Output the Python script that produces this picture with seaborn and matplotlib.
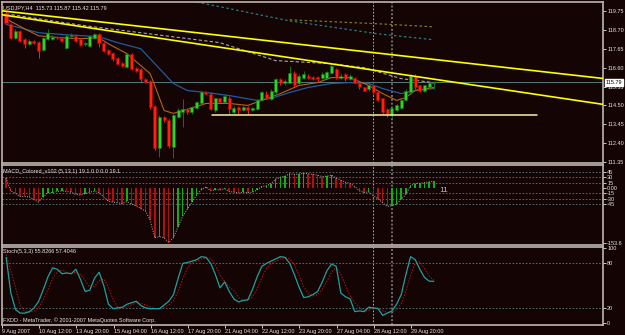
import matplotlib
matplotlib.use("Agg")
import matplotlib.pyplot as plt
import matplotlib.transforms as mtransforms
import numpy as np
import pandas as pd
import seaborn as sns

# USDJPY H4 bars
bar_open = [119.65, 119.04, 118.26, 118.65, 118.21, 117.93, 118.10, 118.04, 117.60, 118.21,
            118.21, 118.28, 118.26, 117.71, 118.37, 118.37, 118.21, 117.93, 117.82, 118.26,
            118.48, 117.99, 117.60, 117.43, 117.16, 116.88, 116.66, 117.38, 116.60, 116.55,
            115.99, 115.88, 114.45, 112.12, 113.84, 113.67, 112.18, 113.84, 114.11, 114.28,
            114.11, 114.33, 114.61, 115.22, 115.16, 114.22, 114.89, 114.67, 114.94, 114.11,
            114.39, 114.22, 114.39, 114.22, 114.28, 114.78, 115.16, 114.83, 115.22, 115.99,
            115.72, 115.77, 116.33, 115.72, 116.05, 116.16, 116.10, 116.10, 116.05, 116.05,
            116.33, 116.55, 116.05, 116.27, 115.99, 116.05, 115.77, 115.50, 115.39, 115.61,
            115.22, 114.89, 114.28, 113.95, 114.22, 114.33, 114.78, 115.22, 116.16, 115.61,
            115.33, 115.50, 115.73]
bar_high = [119.75, 119.10, 118.75, 118.70, 118.26, 118.21, 118.15, 118.10, 118.32, 118.75,
            118.40, 118.37, 118.32, 118.48, 118.54, 118.43, 118.26, 118.04, 118.43, 118.54,
            118.54, 118.04, 117.65, 117.49, 117.21, 116.93, 117.43, 117.43, 116.66, 116.60,
            116.05, 115.94, 114.50, 113.95, 113.90, 113.73, 114.00, 114.33, 114.83, 114.33,
            114.45, 114.72, 115.28, 115.33, 115.22, 114.94, 114.94, 115.11, 115.00, 114.45,
            114.45, 114.50, 114.45, 114.39, 114.83, 115.33, 115.28, 115.39, 116.05, 116.05,
            115.99, 116.70, 116.44, 116.27, 116.44, 116.27, 116.16, 116.16, 116.38, 116.44,
            116.77, 116.60, 116.22, 116.33, 116.22, 116.10, 115.83, 115.55, 115.72, 115.66,
            115.28, 114.94, 114.33, 114.39, 114.56, 114.83, 115.39, 116.27, 116.22, 115.66,
            115.66, 115.83, 115.87]
bar_low = [119.00, 118.20, 118.20, 118.05, 117.71, 117.88, 117.93, 117.16, 117.54, 118.15,
           118.15, 118.18, 118.04, 117.65, 118.32, 118.04, 117.82, 117.82, 117.76, 118.21,
           117.76, 117.49, 117.32, 116.99, 116.77, 116.66, 116.60, 116.49, 116.38, 115.77,
           115.77, 114.28, 112.01, 111.62, 113.56, 112.12, 111.57, 113.78, 113.30, 114.05,
           114.05, 114.28, 114.56, 115.11, 114.22, 114.11, 114.61, 114.61, 114.00, 114.00,
           114.05, 114.17, 114.05, 114.17, 114.22, 114.72, 114.83, 114.78, 115.16, 115.61,
           115.66, 115.72, 115.55, 115.66, 115.99, 115.99, 115.94, 115.88, 115.99, 115.99,
           116.27, 115.99, 115.99, 115.88, 115.94, 115.72, 115.39, 115.28, 115.33, 115.11,
           114.72, 114.05, 113.88, 113.84, 114.17, 114.28, 114.72, 115.16, 115.44, 115.22,
           115.22, 115.44, 115.42]
bar_close = [119.09, 118.26, 118.65, 118.10, 117.93, 118.10, 117.99, 117.54, 118.26, 118.54,
             118.32, 118.26, 118.10, 118.37, 118.40, 118.10, 117.87, 117.96, 118.37, 118.48,
             117.99, 117.54, 117.38, 117.10, 116.82, 116.71, 117.38, 116.55, 116.44, 115.99,
             115.83, 114.39, 112.12, 113.84, 113.67, 112.23, 113.95, 114.22, 114.28, 114.11,
             114.39, 114.67, 115.22, 115.16, 114.28, 114.89, 114.67, 115.00, 114.28, 114.33,
             114.22, 114.39, 114.22, 114.33, 114.78, 115.22, 114.89, 115.33, 115.99, 115.72,
             115.88, 116.33, 115.61, 116.16, 116.27, 116.05, 115.99, 115.99, 116.27, 116.38,
             116.71, 116.05, 116.16, 115.99, 116.16, 115.77, 115.50, 115.33, 115.66, 115.22,
             114.78, 114.11, 114.00, 114.33, 114.50, 114.78, 115.33, 116.16, 115.50, 115.33,
             115.61, 115.72, 115.79]

# moving averages on the price chart (bar index, price)
ma_slow_bar = [0, 3, 7, 13, 20, 24, 29, 31, 34, 36, 39, 43, 48, 54, 57, 61, 65, 70, 74, 78, 81, 85, 88, 92]
ma_slow_val = [119.00, 118.82, 118.54, 118.43, 118.32, 117.99, 117.65, 117.10, 116.27, 115.72, 115.33, 115.22,
               115.05, 114.78, 114.89, 115.22, 115.50, 115.72, 115.77, 115.72, 115.44, 115.16, 115.33, 115.44]
ma_fast_bar = [0, 2, 4, 7, 12, 16, 20, 22, 26, 29, 31, 32, 34, 36, 39, 43, 48, 52, 55, 59, 63, 67, 70, 74,
               78, 81, 84, 86, 88, 92]
ma_fast_val = [119.31, 119.04, 118.76, 118.37, 118.26, 118.21, 118.26, 117.93, 117.38, 116.71, 116.27, 115.61,
               114.22, 114.06, 114.28, 114.61, 114.61, 114.50, 114.78, 115.16, 115.61, 115.77, 116.05, 116.05,
               115.61, 115.16, 114.78, 114.94, 115.33, 115.50]
band_bar = [0, 17, 46, 58, 70, 77, 85, 92]
band_val = [119.59, 118.93, 117.99, 116.99, 116.82, 116.60, 115.99, 115.77]
ma_teal_bar = [40, 61, 80, 92]
ma_teal_val = [120.30, 119.20, 118.48, 118.15]
ma_olive_bar = [61, 80, 92]
ma_olive_val = [119.26, 119.04, 118.87]

# drawn objects
trend_upper_bar = [-0.86, 128.4]
trend_upper_val = [119.76, 116.00]
trend_lower_bar = [-0.86, 128.4]
trend_lower_val = [119.54, 114.56]
support_bar = [44.3, 114.2]
support_val = [113.95, 113.95]
last_price = 115.79

# MACD_Colored (5,13,1)
macd = [28, -8, -15, -24, -24, -25, -33, -40, -25, -14, -13, -10, -8, -10, -12, -18, -20, -16, -12, -9,
        -14, -25, -37, -40, -42, -44, -38, -46, -50, -58, -65, -90, -140, -137, -140, -153.6, -140, -110,
        -80, -60, -40, -20, -5, 3, -8, -5, -6, -2, -10, -12, -14, -12, -13, -12, -6, 4, 6, 12, 25, 30, 33,
        40, 38, 39, 41, 40, 38, 36, 32, 33, 36, 28, 22, 16, 13, 4, -8, -13, -11, -22, -30, -42, -52, -50,
        -45, -32, -18, 6, 12, 13, 15, 17, 19.1]

# Stochastic (5,3,3)
stoch_k = [88, 40, 18, 13, 13, 15, 20, 29, 45, 62, 74, 72, 66, 67, 66, 72, 58, 42, 44, 60, 68, 50, 25, 19,
           20, 21, 25, 27, 29, 23, 20, 19, 19, 19, 24, 29, 38, 60, 80, 81, 83, 85, 89, 88, 80, 65, 47, 55,
           42, 32, 28, 30, 31, 45, 62, 76, 80, 83, 86, 89, 88, 80, 65, 48, 34, 35, 38, 42, 55, 70, 79, 76,
           40, 35, 32, 15, 16, 15, 21, 20, 19, 10, 13, 16, 25, 38, 65, 89, 85, 72, 61, 56, 55.8]
stoch_d = [92, 70, 48, 24, 15, 14, 16, 21, 31, 45, 60, 69, 71, 68, 66, 68, 65, 57, 48, 49, 57, 59, 48, 31,
           21, 20, 22, 24, 27, 26, 24, 21, 19, 19, 21, 24, 30, 42, 59, 74, 81, 83, 86, 87, 86, 78, 64, 56,
           48, 43, 34, 30, 30, 35, 46, 61, 73, 80, 83, 86, 88, 86, 78, 64, 49, 39, 36, 38, 45, 56, 68, 75,
           65, 50, 36, 27, 21, 15, 17, 19, 20, 16, 14, 13, 18, 26, 43, 64, 80, 82, 73, 63, 57.4]

tick_bars = [0, 8, 16, 24, 32, 40, 48, 56, 64, 72, 80, 88]
tick_text = ["9 Aug 2007", "10 Aug 12:00", "13 Aug 20:00", "15 Aug 04:00", "16 Aug 12:00", "17 Aug 20:00",
             "21 Aug 04:00", "22 Aug 12:00", "23 Aug 20:00", "27 Aug 04:00", "28 Aug 12:00", "29 Aug 20:00"]
vline_light = 79
vline_dark = 83

bg = "#140404"
fg = "#e6e6e6"
frame = "#bdb6b0"
level_col = "#557a7a"

sns.set_theme(style="dark", rc={"axes.facecolor": bg, "figure.facecolor": bg,
                                "axes.edgecolor": frame, "axes.grid": False})
plt.rcParams["font.family"] = ["Liberation Sans", "DejaVu Sans"]

df = pd.DataFrame({"open": bar_open, "high": bar_high, "low": bar_low, "close": bar_close})
df["bar"] = np.arange(len(df))
df["up"] = df["close"] >= df["open"]

fig = plt.figure(figsize=(6.25, 3.35), dpi=100)
W, H = 625, 335
ax = fig.add_axes([2 / W, 1 - 163 / H, 601 / W, 161 / H])
ax_m = fig.add_axes([2 / W, 1 - 245 / H, 601 / W, 80 / H])
ax_s = fig.add_axes([2 / W, 1 - 325 / H, 601 / W, 78 / H])
xlim = (-0.86, 128.4)

for a in (ax, ax_m, ax_s):
    a.set_facecolor(bg)
    a.set_xlim(*xlim)
    a.yaxis.tick_right()
    a.tick_params(axis="y", labelsize=4, colors=fg, length=2, width=0.6, pad=1, right=True)
    a.tick_params(axis="x", labelsize=4, colors=fg, length=2, width=0.6, pad=1, bottom=True)
    for s in a.spines.values():
        s.set_color(frame)
        s.set_linewidth(1.2)
    a.axvline(vline_light, color="#c8c8c8", lw=0.6, ls=(0, (2, 2)), zorder=1)
    a.axvline(vline_dark, color="#6e6e6e", lw=1.4, ls=(0, (1, 1)), zorder=1)

# ---- price panel
ax.set_ylim(111.30, 120.25)
ax.axhline(last_price, color="#4f7d7d", lw=0.7, zorder=1)
sns.lineplot(x=band_bar, y=band_val, ax=ax, color="#a8a8a8", lw=0.8, linestyle=(0, (3, 2)), zorder=2)
sns.lineplot(x=ma_teal_bar, y=ma_teal_val, ax=ax, color="#1f8080", lw=0.9, linestyle=(0, (2, 2)), zorder=2)
sns.lineplot(x=ma_olive_bar, y=ma_olive_val, ax=ax, color="#7a7a20", lw=0.9, linestyle=(0, (2, 2)), zorder=2)
sns.lineplot(x=ma_slow_bar, y=ma_slow_val, ax=ax, color="#1f5c9e", lw=0.9, zorder=3)
sns.lineplot(x=ma_fast_bar, y=ma_fast_val, ax=ax, color="#b0661a", lw=0.8, zorder=3)

red_c, red_e = "#ff2010", "#b00000"
grn_c, grn_e = "#30d030", "#0a7a0a"
for up, face, edge in ((True, grn_c, grn_e), (False, red_c, red_e)):
    d = df[df["up"] == up]
    ax.vlines(d["bar"], d["low"], d["high"], color=edge if up else red_c, lw=0.7, zorder=4)
    ax.bar(d["bar"], (d["close"] - d["open"]).abs().clip(lower=0.03),
           bottom=d[["open", "close"]].min(axis=1), width=0.65,
           color=face, edgecolor=edge, linewidth=0.4, zorder=5)

sns.lineplot(x=trend_upper_bar, y=trend_upper_val, ax=ax, color="#ffff00", lw=1.2, zorder=6)
sns.lineplot(x=trend_lower_bar, y=trend_lower_val, ax=ax, color="#ffff00", lw=1.2, zorder=6)
sns.lineplot(x=support_bar, y=support_val, ax=ax, color="#f2f2a8", lw=1.1, zorder=6)

price_ticks = [111.35 + 1.05 * k for k in range(9)]
ax.set_yticks(price_ticks)
ax.set_yticklabels([f"{v:.2f}" for v in price_ticks])
ax.set_xticks(tick_bars)
ax.set_xticklabels([])
ax.tick_params(axis="x", length=0)
tr = mtransforms.blended_transform_factory(ax.transAxes, ax.transData)
ax.text(1.004, last_price, f"{last_price:.2f}", transform=tr, fontsize=4, color="black",
        va="center", ha="left", bbox=dict(boxstyle="square,pad=0.15", fc="white", ec="white"), zorder=10)

# ---- MACD panel
ax_m.set_ylim(-160.5, 64.5)
for lv in (45, 30, 15, -15, -30, -45):
    ax_m.axhline(lv, color=level_col, lw=0.6, ls=(0, (2, 2)), zorder=1)
macd_prev = [macd[0] + 1] + macd[:-1]
macd_col = ["#10b010" if v > p else "#b01010" for v, p in zip(macd, macd_prev)]
ax_m.bar(df["bar"], macd, width=0.32, color=macd_col, linewidth=0, zorder=3)
sns.lineplot(x=df["bar"], y=macd, ax=ax_m, color="#b0b0b0", lw=0.7, linestyle=(0, (1, 1.5)), zorder=4)
ax_m.set_yticks([45, 30, 15, 0, -15, -30, -45, -153.6])
ax_m.set_yticklabels(["45", "30", "15", "0.00", "-15", "-30", "-45", "-153.6"])
ax_m.set_xticks(tick_bars)
ax_m.set_xticklabels([])
ax_m.tick_params(axis="x", length=0)
ax_m.text(93.2, -6, "11", fontsize=6, color="#b8b8b8", va="center", ha="left")

# ---- Stochastic panel
ax_s.set_ylim(-3, 102)
for lv in (80, 20):
    ax_s.axhline(lv, color=level_col, lw=0.6, ls=(0, (2, 2)), zorder=1)
sns.lineplot(x=df["bar"], y=stoch_d, ax=ax_s, color="#c01010", lw=0.7, linestyle=(0, (1.5, 1.5)), zorder=3)
sns.lineplot(x=df["bar"], y=stoch_k, ax=ax_s, color="#1fa0a0", lw=0.9, zorder=4)
ax_s.set_yticks([100, 80, 20, 0])
ax_s.set_yticklabels(["100", "80", "20", "0"])
ax_s.set_xticks([b - 0.9 for b in tick_bars])
ax_s.set_xticklabels(tick_text, ha="left")

for a in (ax, ax_m, ax_s):
    a.set_xlabel("")
    a.set_ylabel("")

fig.text(3 / W, 1 - 8 / H, "USDJPY,H4  115.73 115.87 115.42 115.79", fontsize=4, color=fg, va="center")
fig.text(3 / W, 1 - 172 / H, "MACD_Colored_v102 (5,13,1) 19.1 0.0 0.0 19.1", fontsize=4, color=fg, va="center")
fig.text(3 / W, 1 - 251 / H, "Stoch(5,3,3) 55.8266 57.4046", fontsize=4, color=fg, va="center")
fig.text(3 / W, 1 - 320 / H, "FXDD - MetaTrader, \u00a9 2001-2007 MetaQuotes Software Corp.", fontsize=4,
         color=fg, va="center")

fig.savefig("out.png", dpi=100, facecolor=bg)
